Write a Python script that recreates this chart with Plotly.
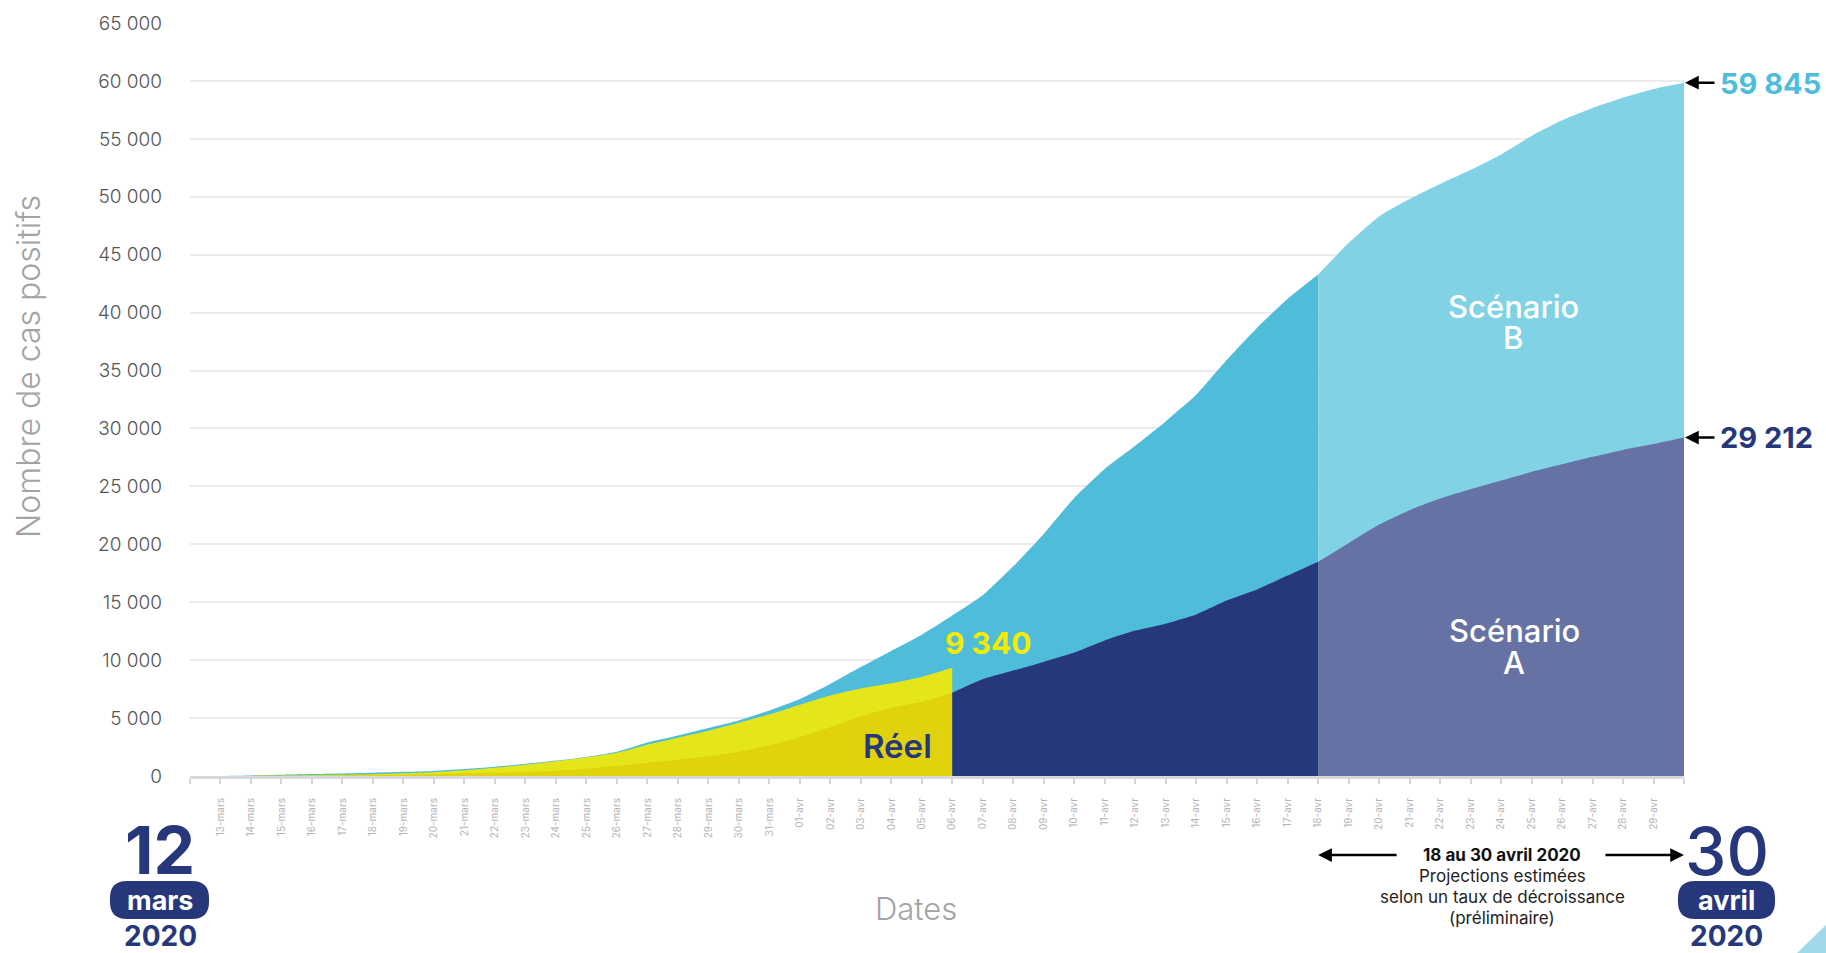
import plotly.graph_objects as go

# ---------------- data ----------------
dates = [
    "12-mars", "13-mars", "14-mars", "15-mars", "16-mars", "17-mars", "18-mars", "19-mars",
    "20-mars", "21-mars", "22-mars", "23-mars", "24-mars", "25-mars", "26-mars", "27-mars",
    "28-mars", "29-mars", "30-mars", "31-mars",
    "01-avr", "02-avr", "03-avr", "04-avr", "05-avr", "06-avr", "07-avr", "08-avr", "09-avr",
    "10-avr", "11-avr", "12-avr", "13-avr", "14-avr", "15-avr", "16-avr", "17-avr", "18-avr",
    "19-avr", "20-avr", "21-avr", "22-avr", "23-avr", "24-avr", "25-avr", "26-avr", "27-avr",
    "28-avr", "29-avr", "30-avr",
]

scenario_b = [
    0, 10, 50, 110, 170, 220, 280, 360, 440, 600, 800, 1050, 1330, 1650, 2100, 2900,
    3500, 4150, 4800, 5650,
    6650, 7950, 9400, 10800, 12200, 13850, 15600, 18100, 20900, 24000, 26500, 28500,
    30600, 32900, 35900, 38700, 41200, 43300, 46000, 48300, 49800, 51100, 52300, 53650,
    55250, 56600, 57670, 58550, 59300, 59845,
]

scenario_a = [
    0, 0, 5, 15, 30, 50, 80, 120, 170, 220, 270, 340, 450, 620, 880, 1150,
    1400, 1700, 2100, 2650,
    3350, 4200, 5150, 5900, 6400, 7190, 8350, 9100, 9850, 10650, 11700, 12550,
    13150, 13950, 15150, 16100, 17300, 18500, 20100, 21700, 22950, 23950, 24750, 25500,
    26250, 26900, 27550, 28150, 28650, 29212,
]

reel = [
    0, 0, 10, 30, 60, 100, 150, 230, 330, 500, 720, 980, 1280, 1600, 2000, 2700,
    3300, 3900, 4600, 5300,
    6150, 6950, 7550, 8000, 8550, 9340,
]

y_ticks = [0, 5000, 10000, 15000, 20000, 25000, 30000, 35000, 40000, 45000, 50000, 55000, 60000, 65000]
y_tick_labels = ["0", "5 000", "10 000", "15 000", "20 000", "25 000", "30 000", "35 000",
                 "40 000", "45 000", "50 000", "55 000", "60 000", "65 000"]
x_tick_labels = [""] + dates[1:-1] + [""]

# ---------------- colours ----------------
B_DARK = "#4FBDDA"
B_LIGHT = "#82D2E6"
NAVY = "#27377B"
A_LIGHT = "#6672A3"
YEL = "#E5E619"
YEL_DARK = "#E0D30D"
FONT = "Inter"

i_reel_end = 25   # 06-avr
i_proj = 37       # 18-avr


def area(xs, ys, color):
    return go.Scatter(
        x=xs, y=ys, mode="lines",
        line=dict(width=0, shape="spline", smoothing=0.5),
        fill="tozeroy", fillcolor=color, hoverinfo="skip", showlegend=False,
    )


fig = go.Figure()
fig.add_trace(area(dates[: i_proj + 1], scenario_b[: i_proj + 1], B_DARK))
fig.add_trace(area(dates[i_proj:], scenario_b[i_proj:], B_LIGHT))
fig.add_trace(area(dates[: i_reel_end + 1], reel, YEL))
fig.add_trace(area(dates[: i_reel_end + 1], scenario_a[: i_reel_end + 1], YEL_DARK))
fig.add_trace(area(dates[i_reel_end: i_proj + 1], scenario_a[i_reel_end: i_proj + 1], NAVY))
fig.add_trace(area(dates[i_proj:], scenario_a[i_proj:], A_LIGHT))

W, H = 1826, 953
L, R, T, B = 190, 142, 23, 177
PW, PH = W - L - R, H - T - B


def px(x):
    return (x - L) / PW


def py(y):
    return (H - B - y) / PH


annotations = []


def text(x, y, s, size, color, weight=400, xanchor="center", angle=0):
    annotations.append(dict(
        x=px(x), y=py(y), xref="paper", yref="paper", text=s, showarrow=False,
        xanchor=xanchor, yanchor="middle", textangle=angle, borderpad=0,
        font=dict(family=FONT, size=size, color=color, weight=weight),
    ))


text(28, 367, "Nombre de cas positifs", 32, "#a3a3a3", weight=300, angle=-90)
text(916, 908, "Dates", 31, "#a3a3a3", weight=300)
text(988, 643, "9 340", 30, "#F5EB00", weight=700)
text(897, 746, "Réel", 33, NAVY, weight=600)
text(1513, 306, "Scénario", 31, "white", weight=500)
text(1513, 338, "B", 31, "white", weight=500)
text(1514, 630, "Scénario", 31, "white", weight=500)
text(1514, 662, "A", 31, "white", weight=500)
text(1719, 83, "59 845", 29, B_DARK, weight=700, xanchor="left")
text(1719, 438, "29 212", 29, NAVY, weight=700, xanchor="left")

text(1502, 855, "18 au 30 avril 2020", 17, "#111", weight=700)
text(1502, 876, "Projections estimées", 17, "#222")
text(1502, 897, "selon un taux de décroissance", 17, "#222")
text(1502, 918, "(préliminaire)", 17, "#222")

text(160, 850, "12", 66, NAVY, weight=700)
text(160, 900, "mars", 27, "white", weight=700)
text(160, 936, "2020", 28, NAVY, weight=700)
text(1727, 851, "30", 66, NAVY, weight=500)
text(1727, 900, "avril", 27, "white", weight=700)
text(1727, 936, "2020", 28, NAVY, weight=700)

# arrows pointing at the end values
for val in (scenario_b[-1], scenario_a[-1]):
    annotations.append(dict(
        x=dates[-1], y=val, xref="x", yref="y", text="", showarrow=True,
        ax=32, ay=0, axref="pixel", ayref="pixel",
        arrowhead=2, arrowsize=1.1, arrowwidth=2.5, arrowcolor="black", standoff=1,
    ))

# projection period arrows
annotations.append(dict(
    x=dates[i_proj], y=py(855), xref="x", yref="paper", text="", showarrow=True,
    ax=80, ay=0, axref="pixel", ayref="pixel",
    arrowhead=2, arrowsize=1.1, arrowwidth=2.5, arrowcolor="black",
))
annotations.append(dict(
    x=dates[-1], y=py(855), xref="x", yref="paper", text="", showarrow=True,
    ax=-80, ay=0, axref="pixel", ayref="pixel",
    arrowhead=2, arrowsize=1.1, arrowwidth=2.5, arrowcolor="black",
))


def pill(x0, x1, y0, y1, r):
    pts = [
        ("M", x0 + r, y0), ("L", x1 - r, y0), ("Q", x1, y0, x1, y0 + r),
        ("L", x1, y1 - r), ("Q", x1, y1, x1 - r, y1), ("L", x0 + r, y1),
        ("Q", x0, y1, x0, y1 - r), ("L", x0, y0 + r), ("Q", x0, y0, x0 + r, y0),
    ]
    parts = []
    for p in pts:
        cmd = p[0]
        coords = p[1:]
        s = []
        for k in range(0, len(coords), 2):
            s.append(f"{px(coords[k]):.5f},{py(coords[k + 1]):.5f}")
        parts.append(cmd + " " + " ".join(s))
    return " ".join(parts) + " Z"


shapes = [
    dict(type="path", xref="paper", yref="paper", path=pill(110, 209, 881, 919, 17),
         fillcolor=NAVY, line=dict(width=0), layer="below"),
    dict(type="path", xref="paper", yref="paper", path=pill(1678, 1775, 881, 919, 17),
         fillcolor=NAVY, line=dict(width=0), layer="below"),
    dict(type="path", xref="paper", yref="paper",
         path=f"M {px(1797):.5f},{py(953):.5f} L {px(1826):.5f},{py(925):.5f} L {px(1826):.5f},{py(953):.5f} Z",
         fillcolor="#9FD9EA", line=dict(width=0), layer="below"),
]

fig.update_layout(
    width=W, height=H,
    margin=dict(l=L, r=R, t=T, b=B, pad=0),
    paper_bgcolor="white", plot_bgcolor="white",
    font=dict(family=FONT),
    showlegend=False,
    annotations=annotations,
    shapes=shapes,
    xaxis=dict(
        type="category", range=[0, len(dates) - 1],
        tickmode="array", tickvals=dates, ticktext=x_tick_labels,
        tickangle=-90, tickfont=dict(family=FONT, size=10, color="#b3b3b3"),
        ticks="outside", ticklen=5, tickwidth=1.5, tickcolor="#d3d3d3",
        ticklabelstandoff=10,
        showline=True, linecolor="#d9d9d9", linewidth=3,
        showgrid=False, zeroline=False, fixedrange=True,
    ),
    yaxis=dict(
        range=[0, 65000], tickmode="array", tickvals=y_ticks, ticktext=y_tick_labels,
        tickfont=dict(family=FONT, size=19, color="#555555", weight=300),
        ticklabelstandoff=27,
        showgrid=True, gridcolor="#ececec", gridwidth=1.5,
        zeroline=False, showline=False, ticks="", fixedrange=True,
    ),
)

fig.write_html(
    "out.html",
    config={"displayModeBar": False},
    post_script="document.body.style.margin='0';document.body.style.overflow='hidden';",
)
